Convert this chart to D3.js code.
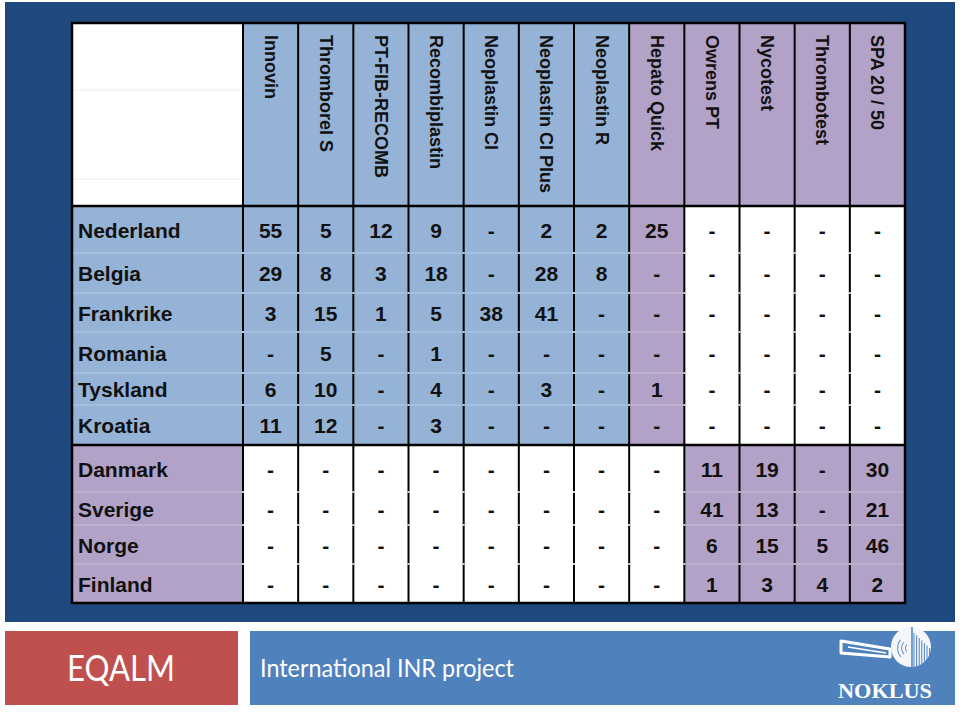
<!DOCTYPE html>
<html>
<head>
<meta charset="utf-8">
<script src="https://cdn.jsdelivr.net/npm/d3@7"></script>
<style>
  body { margin: 0; background: #ffffff; }
  svg { display: block; }
</style>
</head>
<body>
<div id="chart"></div>
<script>
// Reagent / method names (column headers)
var methods = ["Innovin", "Thromborel S", "PT-FIB-RECOMB", "Recombiplastin", "Neoplastin CI",
  "Neoplastin CI Plus", "Neoplastin R", "Hepato Quick", "Owrens PT", "Nycotest", "Thrombotest", "SPA 20 / 50"];
// header colour group of each method: q = quick (blue), o = owren (purple)
var methodGroups = ["q", "q", "q", "q", "q", "q", "q", "o", "o", "o", "o", "o"];

var countries = ["Nederland", "Belgia", "Frankrike", "Romania", "Tyskland", "Kroatia",
  "Danmark", "Sverige", "Norge", "Finland"];
var countryGroups = ["q", "q", "q", "q", "q", "q", "o", "o", "o", "o"];

// number of labs per method, null = "-"
var nederland = [55, 5, 12, 9, null, 2, 2, 25, null, null, null, null];
var belgia    = [29, 8, 3, 18, null, 28, 8, null, null, null, null, null];
var frankrike = [3, 15, 1, 5, 38, 41, null, null, null, null, null, null];
var romania   = [null, 5, null, 1, null, null, null, null, null, null, null, null];
var tyskland  = [6, 10, null, 4, null, 3, null, 1, null, null, null, null];
var kroatia   = [11, 12, null, 3, null, null, null, null, null, null, null, null];
var danmark   = [null, null, null, null, null, null, null, null, 11, 19, null, 30];
var sverige   = [null, null, null, null, null, null, null, null, 41, 13, null, 21];
var norge     = [null, null, null, null, null, null, null, null, 6, 15, 5, 46];
var finland   = [null, null, null, null, null, null, null, null, 1, 3, 4, 2];
var values = [nederland, belgia, frankrike, romania, tyskland, kroatia, danmark, sverige, norge, finland];

// layout
var width = 960, height = 716;
var tableLeft = 72, labelRight = 243, tableRight = 905;
var tableTop = 23, headerBottom = 206, tableBottom = 603;
var rowWeights = [47, 40, 39, 41, 32, 40, 47, 33, 39, 39]; // relative row heights
var blue = "#95b3d7", purple = "#b3a2c7", navy = "#1f497d";

var svg = d3.select("#chart").append("svg")
  .attr("width", width)
  .attr("height", height);

// dark background panel
svg.append("rect")
  .attr("x", 5).attr("y", 2)
  .attr("width", 950).attr("height", 620)
  .attr("fill", navy);

// column scale
var x = d3.scaleBand()
  .domain(methods)
  .range([labelRight, tableRight]);

// row positions from relative heights
var cum = [0].concat(Array.from(d3.cumsum(rowWeights)));
var yScale = d3.scaleLinear()
  .domain([0, d3.sum(rowWeights)])
  .range([headerBottom, tableBottom]);
var rowTop = function(i) { return yScale(cum[i]); };
var rowBottom = function(i) { return yScale(cum[i + 1]); };

var groupColor = function(g) { return g === "q" ? blue : purple; };

// header corner
svg.append("rect")
  .attr("x", tableLeft).attr("y", tableTop)
  .attr("width", labelRight - tableLeft).attr("height", headerBottom - tableTop)
  .attr("fill", "#ffffff");
[90, 179].forEach(function(yy) {
  svg.append("line")
    .attr("x1", tableLeft).attr("x2", labelRight)
    .attr("y1", yy).attr("y2", yy)
    .attr("stroke", "#ececec").attr("stroke-width", 1);
});

// header cells
var header = svg.selectAll(".head")
  .data(methods)
  .enter().append("g")
  .attr("class", "head");

header.append("rect")
  .attr("x", function(d) { return x(d); })
  .attr("y", tableTop)
  .attr("width", x.bandwidth())
  .attr("height", headerBottom - tableTop)
  .attr("fill", function(d, i) { return groupColor(methodGroups[i]); });

header.append("text")
  .attr("transform", function(d) {
    return "translate(" + (x(d) + x.bandwidth() / 2) + "," + (tableTop + 12) + ") rotate(90)";
  })
  .attr("dominant-baseline", "central")
  .attr("text-anchor", "start")
  .style("font-family", "'Liberation Sans', Arial, sans-serif")
  .style("font-weight", "bold")
  .style("font-size", "18px")
  .style("fill", "#111")
  .text(function(d) { return d; });

// body rows
var rows = svg.selectAll(".row")
  .data(countries)
  .enter().append("g")
  .attr("class", "row");

rows.append("rect")
  .attr("x", tableLeft)
  .attr("y", function(d, i) { return rowTop(i); })
  .attr("width", labelRight - tableLeft)
  .attr("height", function(d, i) { return rowBottom(i) - rowTop(i); })
  .attr("fill", function(d, i) { return groupColor(countryGroups[i]); });

rows.each(function(country, i) {
  var g = d3.select(this);
  var rg = countryGroups[i];
  g.selectAll("rect.cell")
    .data(values[i])
    .enter().append("rect")
    .attr("class", "cell")
    .attr("x", function(v, j) { return x(methods[j]); })
    .attr("y", rowTop(i))
    .attr("width", x.bandwidth())
    .attr("height", rowBottom(i) - rowTop(i))
    .attr("fill", function(v, j) {
      // continental rows colour the quick columns plus Hepato Quick, nordic rows the owren ones
      if (rg === "q") return j <= 6 ? blue : (j === 7 ? purple : "#ffffff");
      return j >= 8 ? purple : "#ffffff";
    });
});

// faint row separators
countries.forEach(function(c, i) {
  if (i === 0 || i === 6) return;
  svg.append("line")
    .attr("x1", tableLeft).attr("x2", tableRight)
    .attr("y1", rowTop(i)).attr("y2", rowTop(i))
    .attr("stroke", "#ffffff").attr("stroke-opacity", 0.3).attr("stroke-width", 1);
});

// vertical grid lines
methods.forEach(function(m) {
  svg.append("line")
    .attr("x1", x(m)).attr("x2", x(m))
    .attr("y1", tableTop).attr("y2", tableBottom)
    .attr("stroke", "#000").attr("stroke-width", 2);
});

// white ticks where row lines break the verticals
countries.forEach(function(c, i) {
  if (i === 0 || i === 6) return;
  methods.forEach(function(m) {
    svg.append("line")
      .attr("x1", x(m)).attr("x2", x(m))
      .attr("y1", rowTop(i) - 1).attr("y2", rowTop(i) + 1)
      .attr("stroke", "#ffffff").attr("stroke-width", 2).attr("stroke-opacity", 0.8);
  });
});

// heavy horizontal lines
[headerBottom, rowTop(6)].forEach(function(yy) {
  svg.append("line")
    .attr("x1", tableLeft).attr("x2", tableRight)
    .attr("y1", yy).attr("y2", yy)
    .attr("stroke", "#000").attr("stroke-width", 2.5);
});

// outer border
svg.append("rect")
  .attr("x", tableLeft).attr("y", tableTop)
  .attr("width", tableRight - tableLeft).attr("height", tableBottom - tableTop)
  .attr("fill", "none")
  .attr("stroke", "#000").attr("stroke-width", 2.5);

// row labels + numbers
var textStyle = function(sel) {
  sel.style("font-family", "'Liberation Sans', Arial, sans-serif")
    .style("font-weight", "bold")
    .style("font-size", "21px")
    .style("fill", "#111");
};

rows.append("text")
  .attr("x", tableLeft + 6)
  .attr("y", function(d, i) { return (rowTop(i) + rowBottom(i)) / 2 + 8; })
  .call(textStyle)
  .text(function(d) { return d; });

rows.each(function(country, i) {
  d3.select(this).selectAll("text.val")
    .data(values[i])
    .enter().append("text")
    .attr("class", "val")
    .attr("x", function(v, j) { return x(methods[j]) + x.bandwidth() / 2; })
    .attr("y", (rowTop(i) + rowBottom(i)) / 2 + 8)
    .attr("text-anchor", "middle")
    .call(textStyle)
    .text(function(v) { return v === null ? "-" : v; });
});

// footer
svg.append("rect")
  .attr("x", 5).attr("y", 631).attr("width", 233).attr("height", 74)
  .attr("fill", "#c0504d");
svg.append("text")
  .attr("x", 67).attr("y", 681)
  .attr("textLength", 108).attr("lengthAdjust", "spacingAndGlyphs")
  .style("font-family", "Lato, sans-serif")
  .style("font-size", "36px")
  .style("fill", "#ffffff")
  .text("EQALM");

svg.append("rect")
  .attr("x", 250).attr("y", 631).attr("width", 705).attr("height", 74)
  .attr("fill", "#4f81bd");
svg.append("text")
  .attr("x", 260).attr("y", 677)
  .attr("textLength", 254).attr("lengthAdjust", "spacingAndGlyphs")
  .style("font-family", "Lato, sans-serif")
  .style("font-size", "25px")
  .style("fill", "#ffffff")
  .text("International INR project");

// NOKLUS logo (rough)
var logo = svg.append("g");
logo.append("circle")
  .attr("cx", 911).attr("cy", 647).attr("r", 20)
  .attr("fill", "#f4f6fa");
d3.range(7).forEach(function(k) {
  logo.append("line")
    .attr("x1", 914 + k * 2.6).attr("x2", 914 + k * 2.6)
    .attr("y1", 633 + k * 2.5).attr("y2", 672)
    .attr("stroke", "#4f81bd").attr("stroke-width", 1);
});
logo.append("line")
  .attr("x1", 912).attr("x2", 912).attr("y1", 627).attr("y2", 670)
  .attr("stroke", "#4f81bd").attr("stroke-width", 1.5);
[5, 9, 13].forEach(function(r) {
  logo.append("path")
    .attr("d", d3.arc()({ innerRadius: r, outerRadius: r + 0.8, startAngle: -2.3, endAngle: -0.9 }))
    .attr("transform", "translate(911,648)")
    .attr("fill", "#4f81bd");
});
logo.append("path")
  .attr("d", "M841,641 L890,649 L890,657 L841,653 Z")
  .attr("fill", "none").attr("stroke", "#ffffff").attr("stroke-width", 3)
  .attr("stroke-linejoin", "round");
logo.append("line")
  .attr("x1", 848).attr("x2", 886).attr("y1", 647).attr("y2", 653)
  .attr("stroke", "#ffffff").attr("stroke-width", 1.5);
logo.append("text")
  .attr("x", 885).attr("y", 698)
  .attr("text-anchor", "middle")
  .attr("textLength", 94).attr("lengthAdjust", "spacingAndGlyphs")
  .style("font-family", "'Liberation Serif', 'DejaVu Serif', serif")
  .style("font-weight", "bold")
  .style("font-size", "21px")
  .style("fill", "#ffffff")
  .text("NOKLUS");
</script>
</body>
</html>
